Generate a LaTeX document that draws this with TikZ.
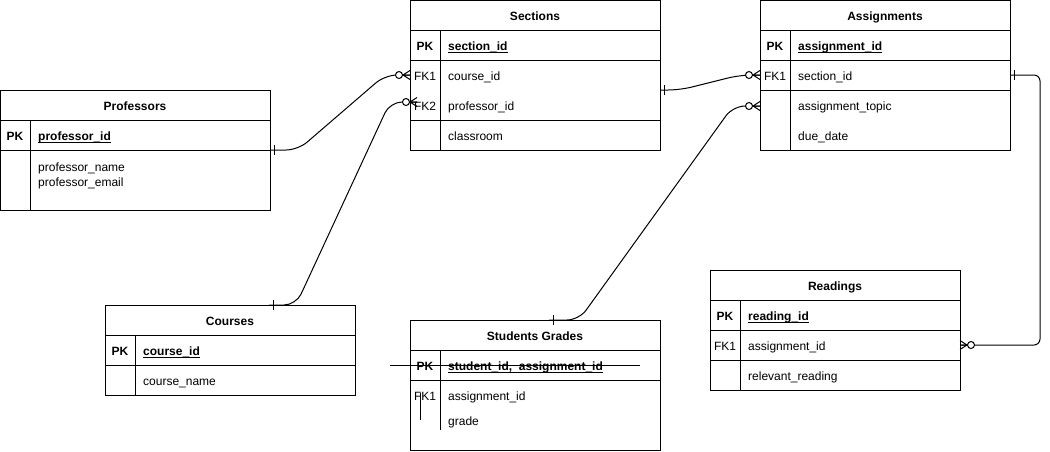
\documentclass[tikz,border=0pt]{standalone}
\usepackage{fontspec}
\setmainfont{Liberation Sans}
% underlined key column name
\newcommand\pkname[1]{\setbox0\hbox{#1}\rlap{\rule[-2.4pt]{\wd0}{0.9pt}}\box0}
\tikzset{
  txt/.style={inner sep=0pt, text height=8.6pt, text depth=0pt, yshift=-0.8pt, font=\fontsize{12}{14}\selectfont},
  head/.style={txt, font=\fontsize{12}{14}\selectfont\bfseries},
  keylbl/.style={txt},
  pklbl/.style={txt, font=\fontsize{12}{14}\selectfont\bfseries},
  field/.style={txt, anchor=west},
  pkfield/.style={field, font=\fontsize{12}{14}\selectfont\bfseries},
  tbl/.style={draw, line width=1pt, inner sep=0pt, outer sep=0pt, anchor=north west},
  grid/.style={line width=1pt},
  link/.style={draw, line width=1pt, rounded corners=12pt},
  zmany/.pic={
    \draw[line width=1pt, fill=white] (-11,0) circle[radius=3.5pt];
    \draw[line width=1pt] (0,-4.5) -- (-7,0) -- (0,4.5) (-7,0) -- (0,0);
  },
  onebar/.pic={\draw[line width=1pt] (4,-5) -- (4,5);},
}
\begin{document}
\begin{tikzpicture}[x=1pt, y=-1pt]
\useasboundingbox (0,0) rectangle (1050,451);

% ---------- Sections ----------
\node[tbl, minimum width=250pt, minimum height=150pt] (sec) at (410,0) {};
\draw[grid] (410,30) -- (660,30) (410,60) -- (660,60) (410,120) -- (660,120) (440,30) -- (440,150);
\node[head] (sec-t) at (535,15) {Sections};
\node[pklbl] (sec-pk) at (425,45) {PK};
\node[pkfield] (sec-id) at (448,45) {\pkname{section\_id}};
\node[keylbl] (sec-fk1) at (425,75) {FK1};
\node[field] (sec-c) at (448,75) {course\_id};
\node[keylbl] (sec-fk2) at (425,105) {FK2};
\node[field] (sec-p) at (448,105) {professor\_id};
\node[field] (sec-r) at (448,135) {classroom};

% ---------- Assignments ----------
\node[tbl, minimum width=250pt, minimum height=150pt] (asg) at (760,0) {};
\draw[grid] (760,30) -- (1010,30) (760,60) -- (1010,60) (760,90) -- (1010,90) (790,30) -- (790,150);
\node[head] (asg-t) at (885,15) {Assignments};
\node[pklbl] (asg-pk) at (775,45) {PK};
\node[pkfield] (asg-id) at (798,45) {\pkname{assignment\_id}};
\node[keylbl] (asg-fk1) at (775,75) {FK1};
\node[field] (asg-s) at (798,75) {section\_id};
\node[field] (asg-top) at (798,105) {assignment\_topic};
\node[field] (asg-due) at (798,135) {due\_date};

% ---------- Professors ----------
\node[tbl, minimum width=270pt, minimum height=120pt] (prof) at (0.5,90) {};
\draw[grid] (0.5,120) -- (270.5,120) (0.5,150) -- (270.5,150) (30,120) -- (30,210);
\node[head] (prof-t) at (135,105) {Professors};
\node[pklbl] (prof-pk) at (15,135) {PK};
\node[pkfield] (prof-id) at (38,135) {\pkname{professor\_id}};
\node[field] (prof-n) at (38,166) {professor\_name};
\node[field] (prof-e) at (38,181) {professor\_email};

% ---------- Courses ----------
\node[tbl, minimum width=250pt, minimum height=90pt] (crs) at (105,305) {};
\draw[grid] (105,335) -- (355,335) (105,365) -- (355,365) (135,335) -- (135,395);
\node[head] (crs-t) at (230,320) {Courses};
\node[pklbl] (crs-pk) at (120,350) {PK};
\node[pkfield] (crs-id) at (143,350) {\pkname{course\_id}};
\node[field] (crs-n) at (143,380) {course\_name};

% ---------- Students Grades ----------
\node[tbl, minimum width=250pt, minimum height=130pt] (grd) at (410,320) {};
\draw[grid] (410,350) -- (660,350) (410,380) -- (660,380) (440,350) -- (440,430);
\node[head] (grd-t) at (535,335) {Students Grades};
\node[pklbl] (grd-pk) at (425,365) {PK};
\node[pkfield] (grd-id) at (448,365) {\pkname{student\_id,\ \ assignment\_id}};
\node[keylbl] (grd-fk1) at (425,395) {FK1};
\node[field] (grd-a) at (448,395) {assignment\_id};
\node[field] (grd-g) at (448,420) {grade};
% stray strokes across the key rows
\draw[grid] (390,365) -- (640,365);
\draw[grid] (420,393) -- (420,420);

% ---------- Readings ----------
\node[tbl, minimum width=250pt, minimum height=120pt] (rd) at (710,270) {};
\draw[grid] (710,300) -- (960,300) (710,330) -- (960,330) (710,360) -- (960,360) (740,300) -- (740,390);
\node[head] (rd-t) at (835,285) {Readings};
\node[pklbl] (rd-pk) at (725,315) {PK};
\node[pkfield] (rd-id) at (748,315) {\pkname{reading\_id}};
\node[keylbl] (rd-fk1) at (725,345) {FK1};
\node[field] (rd-a) at (748,345) {assignment\_id};
\node[field] (rd-r) at (748,375) {relevant\_reading};

% ---------- relationship end points ----------
\coordinate (p-out) at (270,150);
\coordinate (c-out) at (269,305);
\coordinate (s-out) at (660,90);
\coordinate (g-out) at (549,320);
\coordinate (a-out) at (1010,75);
\coordinate (s-in1) at (410,75);
\coordinate (s-in2) at (417,102);
\coordinate (a-in1) at (760,75);
\coordinate (a-in2) at (760,106);
\coordinate (r-in) at (960,345);

% ---------- relationships ----------
\draw[link] (p-out) -- (298,150) -- (385,75) -- (s-in1);
\draw[link] (c-out) -- (296,305) -- (390,102) -- (s-in2);
\draw[link] (s-out) -- (680,90) -- (740,75) -- (a-in1);
\draw[link] (g-out) -- (579,320) -- (733,106) -- (a-in2);
\draw[link, rounded corners=6pt] (a-out) -- (1040,75) -- (1040,345) -- (r-in);

\pic at (p-out) {onebar};
\pic at (c-out) {onebar};
\pic at (s-out) {onebar};
\pic at (g-out) {onebar};
\pic at (a-out) {onebar};
\pic at (s-in1) {zmany};
\pic at (s-in2) {zmany};
\pic at (a-in1) {zmany};
\pic at (a-in2) {zmany};
\pic[xscale=-1] at (r-in) {zmany};
\end{tikzpicture}
\end{document}
